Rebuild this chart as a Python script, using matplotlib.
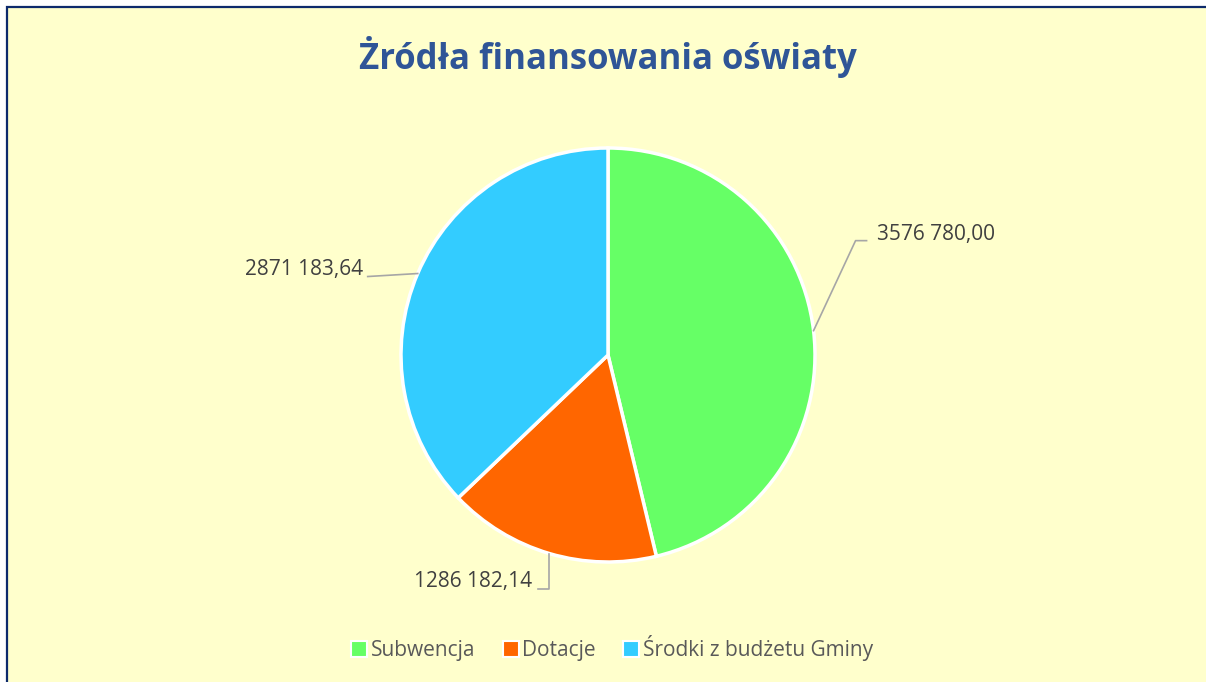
import numpy as np
import matplotlib.pyplot as plt
from matplotlib.patches import Rectangle
from matplotlib.lines import Line2D

# --- data ---
categories = ['Subwencja', 'Dotacje', 'Środki z budżetu Gminy']
values = [3576780.00, 1286182.14, 2871183.64]
value_labels = ['3576 780,00', '1286 182,14', '2871 183,64']
colors = ['#66FF66', '#FF6600', '#33CCFF']

W, H = 1206, 682
plt.rcParams['font.family'] = ['Open Sans', 'DejaVu Sans']

fig = plt.figure(figsize=(W / 100, H / 100), dpi=100, facecolor='white')
ax = fig.add_axes([0, 0, 1, 1])

# chart area with navy border (cut off at right/bottom like the screenshot)
ax.add_patch(Rectangle((7, -20), W + 20, H - 7 + 20, facecolor='#FFFFCC',
                       edgecolor='#0D2A6B', lw=1.6, zorder=0))

cx, cy, r = 608, H - 355, 207
wedges, _ = ax.pie(values, colors=colors, startangle=90, counterclock=False,
                   center=(cx, cy), radius=r, frame=True,
                   wedgeprops=dict(edgecolor='white', linewidth=2.5))
ax.set_xlim(0, W)
ax.set_ylim(0, H)
ax.set_aspect('equal')
ax.axis('off')

# leader lines: (points relative to anchor), text offset, alignment
leaders = [
    ([(42, 90), (53, 90)], (63, 96), 'left'),
    ([(0, -35), (-11, -35)], (-17, -28), 'right'),
    ([(-50, -3)], (-55, 4), 'right'),
]
for w, lab, (pts, toff, ha) in zip(wedges, value_labels, leaders):
    mid = np.deg2rad((w.theta1 + w.theta2) / 2)
    ax_, ay_ = cx + r * np.cos(mid), cy + r * np.sin(mid)
    xs = [ax_] + [ax_ + p[0] for p in pts]
    ys = [ay_] + [ay_ + p[1] for p in pts]
    ax.plot(xs, ys, color='#A6A6A6', lw=1.2, zorder=3)
    ax.text(ax_ + toff[0], ay_ + toff[1], lab, ha=ha, va='center',
            fontsize=15, color='#404040')

ax.text(608, H - 57, 'Żródła finansowania oświaty', ha='center', va='center',
        fontsize=25, fontweight='bold', color='#2F5597')

handles = [Line2D([], [], marker='s', ls='', markersize=11, markerfacecolor=c,
                  markeredgecolor='white', markeredgewidth=1.5) for c in colors]
leg = fig.legend(handles, categories, loc='center', bbox_to_anchor=(613 / W, 1 - 648 / H),
                 ncol=3, frameon=False, fontsize=15, handlelength=0.6,
                 handletextpad=0.25, columnspacing=1.4)
for t in leg.get_texts():
    t.set_color('#595959')

plt.savefig('out.png', dpi=100)
